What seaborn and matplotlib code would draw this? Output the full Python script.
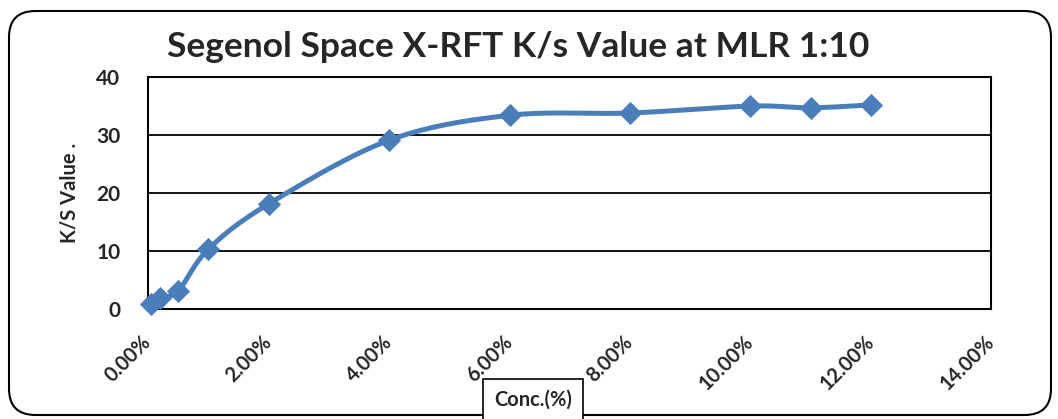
import matplotlib
matplotlib.use("Agg")
import matplotlib.pyplot as plt
from matplotlib.patches import FancyBboxPatch
from matplotlib.ticker import FuncFormatter
import seaborn as sns
import pandas as pd
import numpy as np

# data
conc = [0.05, 0.2, 0.5, 1.0, 2.0, 4.0, 6.0, 8.0, 10.0, 11.0, 12.0]
ks_value = [0.9, 1.9, 3.1, 10.3, 18.1, 29.1, 33.4, 33.8, 35.0, 34.7, 35.2]
x_ticks = [0, 2, 4, 6, 8, 10, 12, 14]
y_ticks = [0, 10, 20, 30, 40]

title = "Segenol Space X-RFT K/s Value at MLR 1:10"
x_label = "Conc.(%)"
y_label = "K/S Value ."
blue = "#4A7EBB"


def smooth_line(x, y, steps=20):
	'''
	Catmull-Rom style smoothing like the spreadsheet "smoothed line" option
	'''
	x = np.asarray(x, float)
	y = np.asarray(y, float)
	px = np.concatenate([[x[0]], x, [x[-1]]])
	py = np.concatenate([[y[0]], y, [y[-1]]])
	xs, ys = [], []
	t = np.linspace(0, 1, steps)
	for i in range(1, len(px) - 2):
		p0, p1, p2, p3 = i - 1, i, i + 1, i + 2
		# bezier control points
		c1x = px[p1] + (px[p2] - px[p0]) / 6
		c1y = py[p1] + (py[p2] - py[p0]) / 6
		c2x = px[p2] - (px[p3] - px[p1]) / 6
		c2y = py[p2] - (py[p3] - py[p1]) / 6
		bx = (1-t)**3*px[p1] + 3*(1-t)**2*t*c1x + 3*(1-t)*t**2*c2x + t**3*px[p2]
		by = (1-t)**3*py[p1] + 3*(1-t)**2*t*c1y + 3*(1-t)*t**2*c2y + t**3*py[p2]
		xs.extend(bx)
		ys.extend(by)
	return np.array(xs), np.array(ys)


sns.set_style("white")
plt.rcParams["font.family"] = ["Lato", "DejaVu Sans"]

fig = plt.figure(figsize=(10.58, 4.19), dpi=100)
ax = fig.add_axes([0.140, 0.263, 0.797, 0.553])

# rounded frame around the whole chart
frame = FancyBboxPatch((9 / 1058, 4 / 419), 1042 / 1058, 404 / 419,
	boxstyle="round,pad=0,rounding_size=0.025", transform=fig.transFigure,
	fill=False, edgecolor="black", linewidth=1.5, mutation_aspect=2.5)
fig.patches.append(frame)

sx, sy = smooth_line(conc, ks_value)
curve = pd.DataFrame({"x": sx, "y": sy})
sns.lineplot(data=curve, x="x", y="y", sort=False, estimator=None,
	color=blue, linewidth=3.6, ax=ax, zorder=3)
pts = pd.DataFrame({"conc": conc, "ks": ks_value})
sns.scatterplot(data=pts, x="conc", y="ks", marker="D", s=140, color=blue,
	edgecolor=blue, linewidth=0, ax=ax, zorder=4, clip_on=False)

ax.set_xlim(0, 14)
ax.set_ylim(0, 40)
ax.set_xticks(x_ticks)
ax.set_yticks(y_ticks)
ax.xaxis.set_major_formatter(FuncFormatter(lambda v, p: "%.2f%%" % v))
ax.yaxis.grid(True, color="black", linewidth=1.3)
ax.set_axisbelow(True)
for s in ax.spines.values():
	s.set_visible(True)
	s.set_color("black")
	s.set_linewidth(1.5)

ax.tick_params(axis="y", length=0, pad=20, labelsize=15)
ax.tick_params(axis="x", length=0, pad=22, labelsize=14.5)
for lab in ax.get_yticklabels():
	lab.set_fontweight("bold")
for lab in ax.get_xticklabels():
	lab.set_rotation(45)
	lab.set_ha("right")
	lab.set_va("center")
	lab.set_rotation_mode("anchor")
	lab.set_fontweight("bold")

ax.set_xlabel("")
ax.set_ylabel(y_label, fontsize=14.5, fontweight="bold", labelpad=12)
fig.text(0.504, 0.045, x_label, ha="center", va="center", fontsize=14.5,
	fontweight="bold",
	bbox=dict(boxstyle="square,pad=0.55", facecolor="white", edgecolor="black", linewidth=1.2))
fig.text(0.49, 0.887, title, ha="center", va="center", fontsize=25.5, fontweight="bold")

fig.savefig("out.png", dpi=100)
